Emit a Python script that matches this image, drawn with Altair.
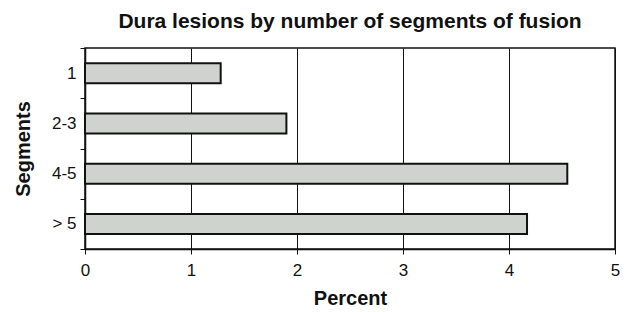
import altair as alt
import pandas as pd

segments = ["1", "2-3", "4-5", "> 5"]
percent = [1.28, 1.90, 4.55, 4.17]
x_ticks = [0, 1, 2, 3, 4, 5]

df = pd.DataFrame({"Segments": segments, "Percent": percent})

FONT = "Liberation Sans"

chart = alt.Chart(df).mark_bar(
    fill="#d0d2d0", stroke="#111111", strokeWidth=2, size=20
).encode(
    x=alt.X("Percent:Q",
            scale=alt.Scale(domain=[0, 5], nice=False, zero=True),
            axis=alt.Axis(values=x_ticks, title="Percent", grid=True,
                          gridColor="#111111", gridWidth=1, gridOpacity=1,
                          domainColor="#111111", domainWidth=1.5,
                          tickColor="#111111", tickSize=5, labelFlush=False,
                          labelPadding=8, labelFontSize=17, labelColor="#111111",
                          titleFontSize=20, titleFontWeight="bold", titlePadding=10,
                          titleColor="#111111", labelFont=FONT, titleFont=FONT)),
    y=alt.Y("Segments:N", sort=segments,
            scale=alt.Scale(paddingInner=0, paddingOuter=0),
            axis=alt.Axis(title="Segments", tickBand="extent", grid=False,
                          domainColor="#111111", domainWidth=1.5,
                          tickColor="#111111", tickSize=5,
                          labelPadding=4, labelFontSize=17, labelColor="#111111",
                          titleFontSize=20, titleFontWeight="bold", titlePadding=18,
                          titleColor="#111111", labelFont=FONT, titleFont=FONT)),
).properties(
    width=530,
    height=201,
    title=alt.TitleParams("Dura lesions by number of segments of fusion",
                          fontSize=21, fontWeight="bold", font=FONT,
                          color="#111111", offset=7, anchor="middle"),
    autosize=alt.AutoSizeParams(type="none"),
    padding={"left": 77, "top": 40, "right": 5, "bottom": 63},
).configure_view(
    stroke="#111111", strokeWidth=1.5
)

chart.save("out.html", embed_options={"renderer": "svg", "actions": False})
